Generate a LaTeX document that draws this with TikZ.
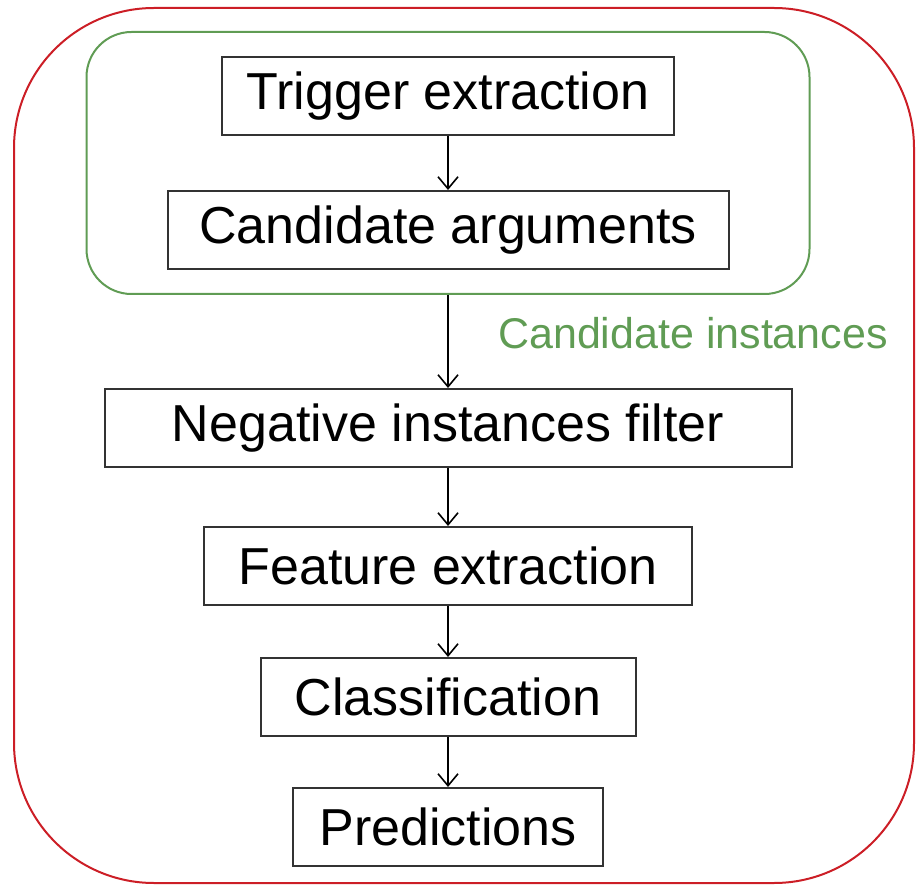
\documentclass[tikz,border=0pt]{standalone}
\usepackage{fontspec}
\setmainfont{Liberation Sans}
\usetikzlibrary{positioning,fit,arrows.meta}
\definecolor{groupgreen}{RGB}{96,156,84}
\definecolor{outerred}{RGB}{204,30,38}

\begin{document}
\begin{tikzpicture}[x=1pt, y=-1pt,
        font=\fontsize{52}{60}\selectfont,
        stage/.style={rectangle, draw=black!80, line width=2pt, minimum height=78pt, inner sep=0pt},
        group/.style={draw=groupgreen, line width=2pt, rounded corners=45pt, inner xsep=80pt, inner ysep=24pt},
        note/.style={text=groupgreen, font=\fontsize{43}{50}\selectfont},
        flow/.style={-{Straight Barb[length=12pt, width=20pt]}, line width=1.6pt}
    ]
        \useasboundingbox (0,0) rectangle (916,885);
        % outer frame
        \draw[outerred, line width=2pt, rounded corners=140pt] (14,8) rectangle (914,883);
        \node[stage, minimum width=452pt] (trigger) at (448,96) {Trigger extraction};
        \node[stage, minimum width=561pt, below=54pt of trigger] (cand) {Candidate arguments};
        \node[group, fit=(trigger)(cand)] (instances) {};
        \node[note] (instlabel) at (693,333) {Candidate instances};
        \node[stage, minimum width=687pt, below=93pt of instances] (negfilter) {Negative instances filter};
        \node[stage, minimum width=488pt, below=58pt of negfilter] (features) {Feature extraction};
        \node[stage, minimum width=375pt, below=51pt of features] (classify) {Classification};
        \node[stage, minimum width=310pt, below=50pt of classify] (predict) {Predictions};
        \draw[flow] (trigger) -- (cand);
        \draw[flow] (instances) -- (negfilter);
        \draw[flow] (negfilter) -- (features);
        \draw[flow] (features) -- (classify);
        \draw[flow] (classify) -- (predict);
    \end{tikzpicture}
\end{document}
